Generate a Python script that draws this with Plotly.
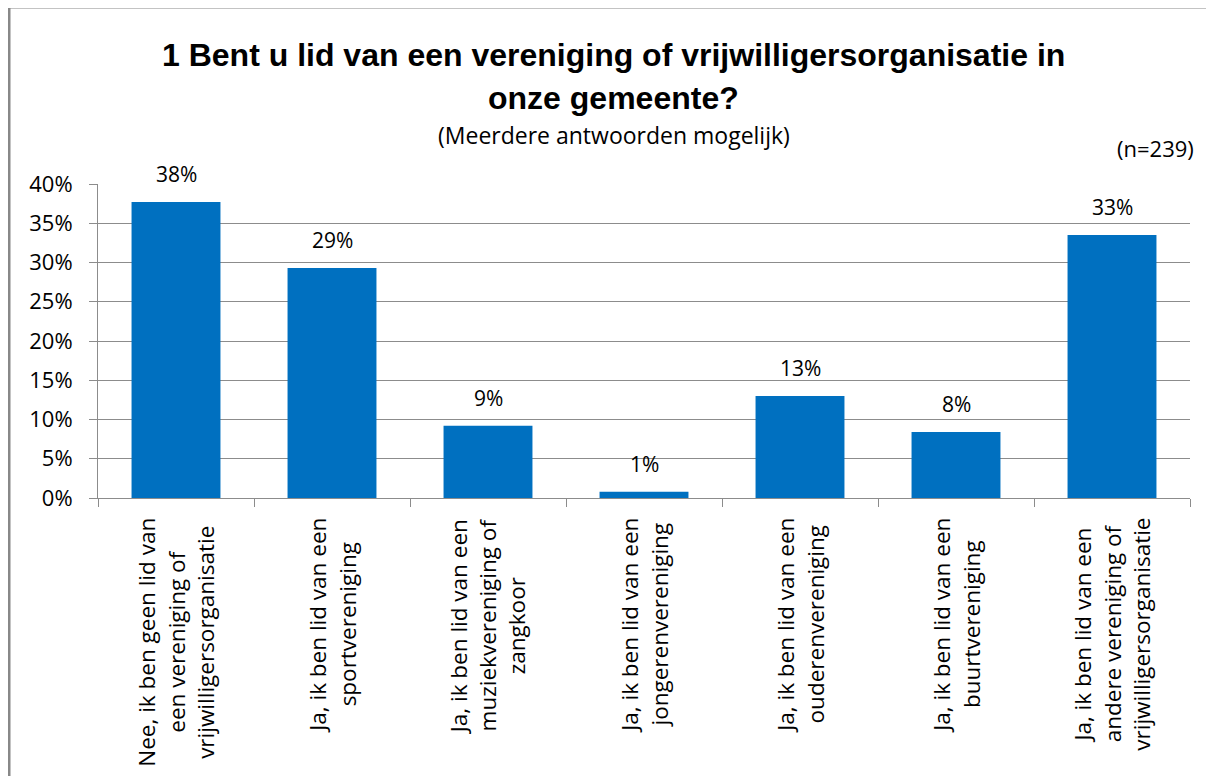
import plotly.graph_objects as go

categories = [
    "Nee, ik ben geen lid van<br>een vereniging of<br>vrijwilligersorganisatie",
    "Ja, ik ben lid van een<br>sportvereniging",
    "Ja, ik ben lid van een<br>muziekvereniging of<br>zangkoor",
    "Ja, ik ben lid van een<br>jongerenvereniging",
    "Ja, ik ben lid van een<br>ouderenvereniging",
    "Ja, ik ben lid van een<br>buurtvereniging",
    "Ja, ik ben lid van een<br>andere vereniging of<br>vrijwilligersorganisatie",
]
values = [0.377, 0.293, 0.092, 0.008, 0.130, 0.084, 0.335]
value_labels = ["38%", "29%", "9%", "1%", "13%", "8%", "33%"]
y_ticks = [0, 0.05, 0.10, 0.15, 0.20, 0.25, 0.30, 0.35, 0.40]

title_lines = ["1 Bent u lid van een vereniging of vrijwilligersorganisatie in", "onze gemeente?"]
subtitle = "(Meerdere antwoorden mogelijk)"
n_note = "(n=239)"

GRID = "#8c8c8c"
BAR = "#0070C0"
LBL_FONT = "Open Sans, Noto Sans, DejaVu Sans"
TITLE_FONT = "Liberation Sans, Arial"

fig = go.Figure()
fig.add_trace(go.Bar(x=categories, y=values, marker=dict(color=BAR, line=dict(width=0)),
                     hoverinfo="skip"))

annotations = []
# data labels
for c, v, t in zip(categories, values, value_labels):
    annotations.append(dict(x=c, y=v, xref="x", yref="y", text=t, showarrow=False,
                            yanchor="bottom", yshift=12,
                            font=dict(family=LBL_FONT, size=21, color="#000")))
# category labels (rotated, centered lines)
for c in categories:
    annotations.append(dict(x=c, y=-0.058, xref="x", yref="paper", text=c, showarrow=False,
                            textangle=-90, align="center", xanchor="center", yanchor="top",
                            font=dict(family=LBL_FONT, size=22.5, color="#000")))
# titles
for line, yy in zip(title_lines, [1.411, 1.274]):
    annotations.append(dict(x=0.4725, y=yy, xref="paper", yref="paper", text="<b>" + line + "</b>",
                            showarrow=False, xanchor="center", yanchor="middle",
                            font=dict(family=TITLE_FONT, size=32, color="#000")))
annotations.append(dict(x=0.4725, y=1.156, xref="paper", yref="paper", text=subtitle,
                        showarrow=False, xanchor="center", yanchor="middle",
                        font=dict(family=LBL_FONT, size=23, color="#000")))
annotations.append(dict(x=0.968, y=1.115, xref="paper", yref="paper", text=n_note,
                        showarrow=False, xanchor="center", yanchor="middle",
                        font=dict(family=LBL_FONT, size=22, color="#000")))

shapes = [
    dict(type="line", xref="paper", yref="paper", x0=-0.0815, x1=-0.0815, y0=1.5637, y1=-1.0,
         line=dict(color="#888888", width=3)),
    dict(type="line", xref="paper", yref="paper", x0=-0.0815, x1=1.2, y0=1.5637, y1=1.5637,
         line=dict(color="#888888", width=3)),
]

fig.update_layout(
    width=1198, height=768,
    margin=dict(l=90, r=16, t=176, b=278, pad=0),
    paper_bgcolor="white", plot_bgcolor="white",
    showlegend=False,
    bargap=0.43,
    annotations=annotations,
    shapes=shapes,
    xaxis=dict(type="category", range=[-0.5, 6.5], showticklabels=False,
               ticks="outside", tickson="boundaries", ticklen=8, tickcolor=GRID, tickwidth=1,
               showline=True, linecolor=GRID, linewidth=1, showgrid=False, fixedrange=True),
    yaxis=dict(range=[0, 0.4], tickvals=y_ticks, tickformat=".0%", ticks="outside", ticklen=8,
               tickcolor=GRID, showline=True, linecolor=GRID, linewidth=1,
               showgrid=True, gridcolor=GRID, gridwidth=1, zeroline=False,
               ticklabelstandoff=12,
               tickfont=dict(family=LBL_FONT, size=22, color="#000")),
)

fig.write_html("out.html", config={"displayModeBar": False})
